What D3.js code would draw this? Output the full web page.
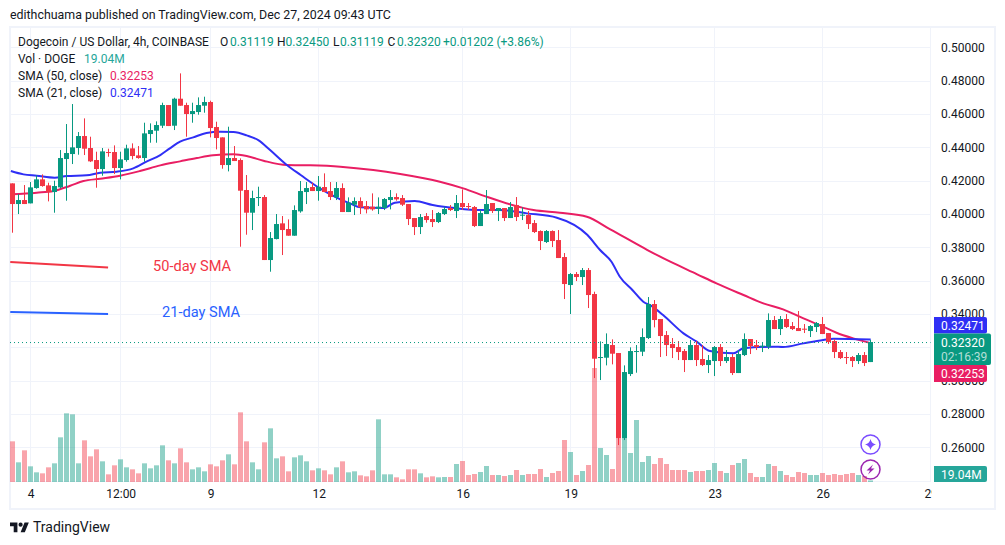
<!DOCTYPE html>
<html><head><meta charset="utf-8">
<script src="https://cdn.jsdelivr.net/npm/d3@7/dist/d3.min.js"></script>
<style>html,body{margin:0;padding:0;background:#fff}svg{display:block}text{font-family:Roboto,sans-serif}</style>
</head><body><svg id="c" width="1005" height="545"></svg>
<script>
const opens=[.4184,.4060,.4084,.4064,.4156,.4208,.4172,.4132,.4160,.4330,.4360,.4396,.4468,.4396,.4324,.4270,.4372,.4372,.4276,.4324,.4394,.4352,.4336,.4480,.4500,.4530,.4654,.4530,.4692,.4654,.4600,.4612,.4650,.4672,.4522,.4460,.4294,.4336,.4324,.4144,.4008,.4098,.4102,.3724,.3850,.3944,.3910,.3870,.4016,.4132,.4162,.4138,.4162,.4138,.4100,.4156,.4012,.4056,.4078,.4048,.4044,.4032,.4036,.4084,.4102,.4096,.4060,.3976,.3922,.3988,.3970,.3952,.4000,.4036,.4018,.4066,.4048,.4042,.3928,.4000,.4066,.4018,.4036,.3976,.4054,.3992,.3994,.3946,.3898,.3832,.3898,.3844,.3742,.3574,.3640,.3622,.3664,.3520,.3138,.3138,.3214,.3166,.2656,.3040,.3174,.3174,.3256,.3460,.3370,.3274,.3220,.3202,.3178,.3124,.3214,.3130,.3094,.3118,.3202,.3118,.3142,.3046,.3154,.3250,.3214,.3206,.3204,.3364,.3310,.3370,.3328,.3316,.3312,.3298,.3322,.3340,.3286,.3238,.3172,.3142,.3142,.3118,.3154,.31119];
const closes=[.4060,.4084,.4060,.4160,.4208,.4168,.4132,.4168,.4336,.4366,.4400,.4468,.4392,.4316,.4270,.4376,.4368,.4276,.4328,.4394,.4348,.4336,.4484,.4504,.4534,.4654,.4528,.4692,.4650,.4600,.4618,.4654,.4672,.4516,.4456,.4294,.4336,.4318,.4140,.4008,.4096,.4102,.3724,.3856,.3940,.3904,.3870,.4024,.4138,.4156,.4138,.4164,.4132,.4102,.4156,.4012,.4068,.4078,.4040,.4028,.4028,.4044,.4090,.4102,.4088,.4056,.3970,.3922,.3982,.3964,.3952,.4006,.4030,.4024,.4066,.4042,.4044,.3928,.4006,.4060,.4018,.4036,.3976,.4042,.3982,.3996,.3940,.3892,.3838,.3898,.3838,.3736,.3580,.3640,.3622,.3664,.3514,.3132,.3142,.3220,.3162,.2656,.3052,.3178,.3178,.3262,.3460,.3364,.3268,.3214,.3196,.3172,.3124,.3214,.3124,.3094,.3124,.3202,.3118,.3142,.3046,.3160,.3250,.3208,.3202,.3210,.3364,.3310,.3370,.3322,.3310,.3298,.3308,.3328,.3346,.3280,.3232,.3172,.3136,.3138,.3118,.3154,.3106,.3232];
const highs=[.4184,.4120,.4174,.4192,.4232,.4238,.4188,.4200,.4384,.4540,.4660,.4492,.4574,.4464,.4374,.4396,.4392,.4412,.4374,.4416,.4424,.4408,.4548,.4544,.4556,.4668,.4654,.4698,.4844,.4668,.4668,.4700,.4704,.4680,.4554,.4460,.4524,.4408,.4334,.4234,.4140,.4164,.4114,.3892,.4000,.3988,.3968,.4052,.4198,.4192,.4188,.4228,.4244,.4192,.4192,.4184,.4100,.4100,.4100,.4078,.4124,.4100,.4096,.4144,.4124,.4114,.4060,.3976,.4000,.4006,.4024,.4012,.4044,.4054,.4114,.4148,.4066,.4048,.4024,.4144,.4066,.4036,.4036,.4072,.4102,.4040,.4018,.3964,.3902,.3904,.3902,.3904,.3766,.3646,.3652,.3676,.3676,.3534,.3236,.3284,.3248,.3166,.3092,.3200,.3214,.3314,.3502,.3484,.3370,.3298,.3256,.3238,.3190,.3244,.3238,.3214,.3154,.3208,.3220,.3184,.3160,.3184,.3284,.3250,.3244,.3232,.3404,.3388,.3388,.3400,.3352,.3418,.3340,.3334,.3352,.3382,.3286,.3250,.3184,.3172,.3148,.3166,.3172,.32450];
const lows=[.3888,.4000,.4060,.4064,.4152,.4164,.4076,.4008,.4154,.4080,.4300,.4356,.4354,.4312,.4158,.4230,.4344,.4240,.4208,.4314,.4328,.4332,.4314,.4428,.4428,.4516,.4528,.4504,.4650,.4464,.4548,.4596,.4608,.4460,.4388,.4272,.4256,.4318,.3804,.3876,.3904,.4048,.3724,.3654,.3848,.3754,.3870,.3870,.4008,.4060,.4138,.4080,.4132,.4084,.4084,.4012,.4012,.3994,.4000,.4004,.4020,.4000,.4024,.4028,.4080,.4048,.3934,.3874,.3880,.3948,.3922,.3946,.3994,.4018,.3976,.4024,.4024,.3922,.3928,.4000,.4006,.3958,.3958,.3976,.3958,.3964,.3910,.3886,.3784,.3826,.3802,.3736,.3490,.3400,.3598,.3574,.3436,.3016,.3004,.3092,.3098,.2614,.2644,.3028,.3048,.3148,.3250,.3320,.3142,.3148,.3136,.3124,.3052,.3124,.3088,.3088,.3046,.3028,.3088,.3106,.3034,.3046,.3148,.3160,.3184,.3172,.3190,.3310,.3274,.3316,.3304,.3298,.3286,.3262,.3292,.3280,.3220,.3136,.3130,.3100,.3082,.3100,.3088,.31119];
const volumes=[488,236,380,188,116,104,176,224,536,824,812,224,500,308,392,248,92,200,272,176,152,104,224,164,200,440,260,224,404,236,152,176,128,212,188,260,332,212,836,488,236,152,476,644,284,308,128,296,320,248,140,164,140,92,176,248,116,128,80,68,140,752,92,92,56,32,152,152,104,56,68,56,60,60,216,252,84,96,120,192,84,84,72,84,144,84,96,96,156,60,108,132,504,360,84,132,204,1368,408,324,156,528,528,348,744,240,312,216,288,216,144,144,144,120,132,132,144,228,132,108,204,228,276,108,60,60,216,192,132,84,60,120,108,84,84,108,84,96,84,96,108,84,72,19.04];
const sma21Index=[-0.3,1.8,4,7,9,12.3,14.6,17.3,20.1,22.3,24.6,26.2,27.9,30.1,32.3,34.6,36.8,39,41,42.9,45.7,48,51.2,54.6,56.2,58,61.8,63.7,67,70,74,77.9,81.2,85.7,90.7,95.8,97.9,99.8,101.2,103.4,105.1,106.5,108.4,111.8,114,116.2,120.1,121.8,126.8,128.4,131.8,135.1,136.8,143];
const sma21Values=[.4258,.4238,.4230,.4218,.4228,.4232,.4248,.4254,.4274,.4314,.4354,.4394,.4434,.4460,.4486,.4494,.4492,.4472,.4442,.4384,.4294,.4234,.4154,.4088,.4064,.4040,.4036,.4068,.4078,.4054,.4034,.4024,.4024,.4004,.3978,.3874,.3784,.3714,.3624,.3540,.3474,.3448,.3394,.3284,.3234,.3178,.3164,.3194,.3204,.3202,.3224,.3244,.3252,.32471];
const sma50Index=[-0.3,4,6.8,9.6,11.8,14.6,17.9,21.2,24.6,27.9,30.7,33.4,36.8,39,41.8,45.7,49.6,54.6,60.1,64.6,71.2,75.1,79,82.9,86.8,91.2,95.7,99.6,105.8,109.6,114,117.3,121.8,125.1,128.4,131.8,135.1,137.3,140.1,143];
const sma50Values=[.4118,.4128,.4138,.4170,.4198,.4212,.4230,.4258,.4292,.4316,.4336,.4352,.4358,.4348,.4320,.4294,.4292,.4284,.4264,.4240,.4194,.4154,.4104,.4058,.4024,.4008,.3984,.3908,.3784,.3714,.3640,.3584,.3514,.3464,.3428,.3374,.3324,.3288,.3254,.32253];
const priceTicks=[.26,.28,.30,.32,.34,.36,.38,.40,.42,.44,.46,.48,.50];
const timeTicks=[3,18,33,51,75,93,117,135,153];
const timeLabels=["4","12:00","9","12","16","19","23","26","29"];
const GREEN="#089981",RED="#f23645",BLUE21="#2f2ff5",RED50="#e91e63",INK="#131722",GRID="#f0f3fa";

const svg=d3.select("#c");
const x=d3.scaleLinear().domain([0,153]).range([12.67,930.67]);
const y=d3.scaleLinear().domain([.24,.50]).range([480.7,47.37]);
const v=d3.scaleLinear().domain([0,1200]).range([482,382]);
const idx=d3.range(opens.length);
const defs=svg.append("defs");
defs.append("clipPath").attr("id","plot").append("rect").attr("x",10).attr("y",28).attr("width",920.5).attr("height",454);
defs.append("clipPath").attr("id","tax").append("rect").attr("x",10).attr("y",483).attr("width",922).attr("height",25);

// frame
svg.append("text").attr("x",10).attr("y",19).attr("font-size",12.4).attr("fill",INK).text("edithchuama published on TradingView.com, Dec 27, 2024 09:43 UTC");
svg.append("rect").attr("x",10).attr("y",27).attr("width",985).attr("height",482).attr("fill","none").attr("stroke",GRID).attr("stroke-width",2);

// grid
const grid=svg.append("g").attr("clip-path","url(#plot)");
grid.selectAll(".h").data(priceTicks.concat([.24])).join("rect").attr("x",10).attr("width",921)
  .attr("y",d=>Math.round(y(d))-0).attr("height",1).attr("fill",GRID);
grid.selectAll(".v").data(timeTicks).join("rect").attr("y",28).attr("height",454).attr("width",1)
  .attr("x",d=>Math.floor(x(d))).attr("fill",GRID);
svg.append("rect").attr("x",930).attr("y",28).attr("width",1).attr("height",454).attr("fill",GRID);

const plot=svg.append("g").attr("clip-path","url(#plot)");
// volume
plot.selectAll(".vol").data(idx).join("rect").attr("x",i=>Math.floor(x(i))-2).attr("width",5)
  .attr("y",i=>v(volumes[i])).attr("height",i=>v(0)-v(volumes[i]))
  .attr("fill",i=>closes[i]>=opens[i]?GREEN:RED).attr("opacity",.45);
// lines
const line=d3.line().curve(d3.curveMonotoneX);
plot.append("path").attr("d",line(sma50Index.map((k,i)=>[x(k),y(sma50Values[i])]))).attr("fill","none").attr("stroke",RED50).attr("stroke-width",2);
plot.append("path").attr("d",line(sma21Index.map((k,i)=>[x(k),y(sma21Values[i])]))).attr("fill","none").attr("stroke",BLUE21).attr("stroke-width",2);
// candles
plot.selectAll(".w").data(idx).join("rect").attr("x",i=>Math.floor(x(i))).attr("width",1)
  .attr("y",i=>y(highs[i])).attr("height",i=>y(lows[i])-y(highs[i]))
  .attr("fill",i=>closes[i]>=opens[i]?GREEN:RED);
plot.selectAll(".b").data(idx).join("rect").attr("x",i=>Math.floor(x(i))-2).attr("width",5)
  .attr("y",i=>y(Math.max(opens[i],closes[i])))
  .attr("height",i=>Math.max(1,Math.abs(y(opens[i])-y(closes[i]))))
  .attr("fill",i=>closes[i]>=opens[i]?GREEN:RED);
// last price
plot.append("line").attr("x1",10).attr("x2",931).attr("y1",y(closes[143])+.5).attr("y2",y(closes[143])+.5)
  .attr("stroke",GREEN).attr("stroke-dasharray","1 3");

// annotations
const note50x=[-0.4,15.9],note50y=[.3712,.3679],note21x=[-0.4,15.9],note21y=[.3412,.3400];
svg.append("line").attr("x1",x(note50x[0])).attr("x2",x(note50x[1])).attr("y1",y(note50y[0])).attr("y2",y(note50y[1])).attr("stroke",RED).attr("stroke-width",2);
svg.append("line").attr("x1",x(note21x[0])).attr("x2",x(note21x[1])).attr("y1",y(note21y[0])).attr("y2",y(note21y[1])).attr("stroke","#2962ff").attr("stroke-width",2);
svg.append("text").attr("x",153).attr("y",271).attr("font-size",14.6).attr("fill",RED).text("50-day SMA");
svg.append("text").attr("x",162).attr("y",317).attr("font-size",14.6).attr("fill","#2962ff").text("21-day SMA");

// axes
const ay=svg.append("g").attr("transform","translate(941,0)")
  .call(d3.axisRight(y).tickValues(priceTicks).tickFormat(d3.format(".5f")).tickSize(0).tickPadding(0));
ay.select(".domain").remove();
ay.selectAll("text").attr("font-size",12).attr("font-family","Roboto,sans-serif").attr("fill",INK);
const ax=svg.append("g").attr("clip-path","url(#tax)").append("g").attr("transform","translate(0,482)")
  .call(d3.axisBottom(x).tickValues(timeTicks).tickFormat((d,i)=>timeLabels[i]).tickSize(0).tickPadding(7));
ax.select(".domain").remove();
ax.selectAll("text").attr("font-size",12).attr("font-family","Roboto,sans-serif").attr("fill",INK);

// legend
function t(px,py,s,c,fs){return svg.append("text").attr("x",px).attr("y",py).attr("font-size",fs||12).attr("fill",c||INK).text(s);}
t(18,46,"Dogecoin / US Dollar, 4h, COINBASE");
t(220,46,"O");t(230,46,"0.31119",GREEN);t(277,46,"H");t(285.5,46,"0.32450",GREEN);t(333,46,"L");t(340,46,"0.31119",GREEN);t(387.5,46,"C");t(397,46,"0.32320",GREEN);t(443,46,"+0.01202 (+3.86%)",GREEN);
t(18,63,"Vol · DOGE");t(84,63,"19.04M","#26a69a");
t(18,80,"SMA (50, close)");t(110,80,"0.32253",RED50);
t(18,97,"SMA (21, close)");t(110,97,"0.32471",BLUE21);

// price labels
function box(x0,y0,w,h,c){svg.append("path").attr("d",`M${x0},${y0}h${w-2}a2,2 0 0 1 2,2v${h-4}a2,2 0 0 1 -2,2h-${w-2}z`).attr("fill",c);}
box(934,317,53,16.5,BLUE21);
box(934,333.5,57,31.5,GREEN);
box(934,365,53,17,RED50);
box(934,466,53,16,"#26a69a");
t(941,329.5,"0.32471","#fff");
t(941,346.5,"0.32320","#fff");
t(941,361,"02:16:39","rgba(255,255,255,.7)");
t(941,377.5,"0.32253","#fff");
t(941,479,"19.04M","#fff");

// icons
const ic=svg.append("g");
ic.append("circle").attr("cx",870.5).attr("cy",444.5).attr("r",9.5).attr("fill","#fff").attr("stroke","#7b4dff").attr("stroke-width",1.5);
ic.append("path").attr("transform","translate(870.5,444.5)").attr("d","M0,-5.5Q1,-1 5.5,0Q1,1 0,5.5Q-1,1 -5.5,0Q-1,-1 0,-5.5Z").attr("fill","#7b4dff");
ic.append("circle").attr("cx",870.5).attr("cy",469.5).attr("r",9.5).attr("fill","none").attr("stroke","#9c27b0").attr("stroke-width",1.5);
ic.append("path").attr("transform","translate(870.5,469.5)").attr("d","M2.5,-5L-4,1H-0.5L-2.5,5L4,-1H0.5Z").attr("fill","#9c27b0");

// logo
svg.append("path").attr("transform","translate(10,520.5) scale(.53)").attr("fill",INK)
  .attr("d","M14 22H7V11H0V4h14v18zM28 22h-8l7.5-18h8L28 22z");
svg.append("circle").attr("cx",20.6).attr("cy",524.7).attr("r",2.1).attr("fill",INK);
t(33,532,"TradingView",INK,14);
</script></body></html>
